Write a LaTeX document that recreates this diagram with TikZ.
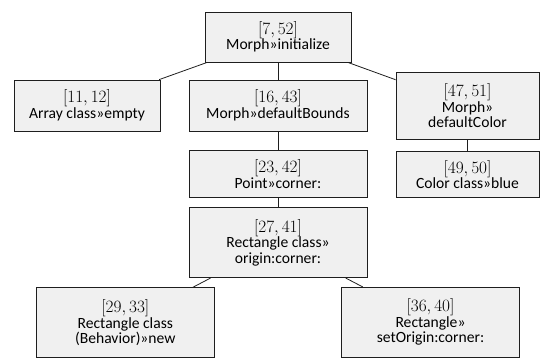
\documentclass[tikz,border=0pt]{standalone}
\usepackage{fontspec}
\setmainfont{Carlito}
\newcommand{\nums}[2]{{\fontsize{16.5}{15}\selectfont$[#1, #2]$}}
\definecolor{boxfill}{RGB}{240,240,240}
\definecolor{boxline}{RGB}{30,30,30}
\tikzset{
  box/.style={draw=boxline, fill=boxfill, line width=0.8pt, inner sep=0pt,
    align=center, font=\fontsize{15.6}{15.5}\selectfont},
  edge/.style={draw=boxline, line width=0.8pt}
}
\begin{document}
\begin{tikzpicture}[x=1pt,y=-1pt]
\useasboundingbox (0,0) rectangle (540,357);
\node[box, minimum width=146pt, minimum height=50pt] (root) at (278,37) {\nums{7}{52}\\Morph»initialize};
\node[box, minimum width=146pt, minimum height=51pt] (arr) at (87,105.5) {\nums{11}{12}\\Array class»empty};
\node[box, minimum width=178pt, minimum height=51pt] (bounds) at (278,105.5) {\nums{16}{43}\\Morph»defaultBounds};
\node[box, minimum width=143pt, minimum height=66.5pt] (dcolor) at (467.5,105.75) {\nums{47}{51}\\Morph»\\defaultColor};
\node[box, minimum width=178pt, minimum height=47pt] (point) at (278,174) {\nums{23}{42}\\Point»corner:};
\node[box, minimum width=143pt, minimum height=46pt] (blue) at (467.5,174.5) {\nums{49}{50}\\Color class»blue};
\node[box, minimum width=178pt, minimum height=70pt] (rect) at (278,242.7) {\nums{27}{41}\\Rectangle class»\\origin:corner:};
\node[box, minimum width=178pt, minimum height=70pt] (newr) at (125.3,322.7) {\nums{29}{33}\\Rectangle class\\(Behavior)»new};
\node[box, minimum width=178pt, minimum height=70pt] (seto) at (430.5,322.3) {\nums{36}{40}\\Rectangle»\\setOrigin:corner:};
\draw[edge] (root) -- (arr);
\draw[edge] (root) -- (bounds);
\draw[edge] (root) -- (dcolor);
\draw[edge] (bounds) -- (point);
\draw[edge] (dcolor) -- (blue);
\draw[edge] (point) -- (rect);
\draw[edge] (rect) -- (newr);
\draw[edge] (rect) -- (seto);
\end{tikzpicture}
\end{document}
